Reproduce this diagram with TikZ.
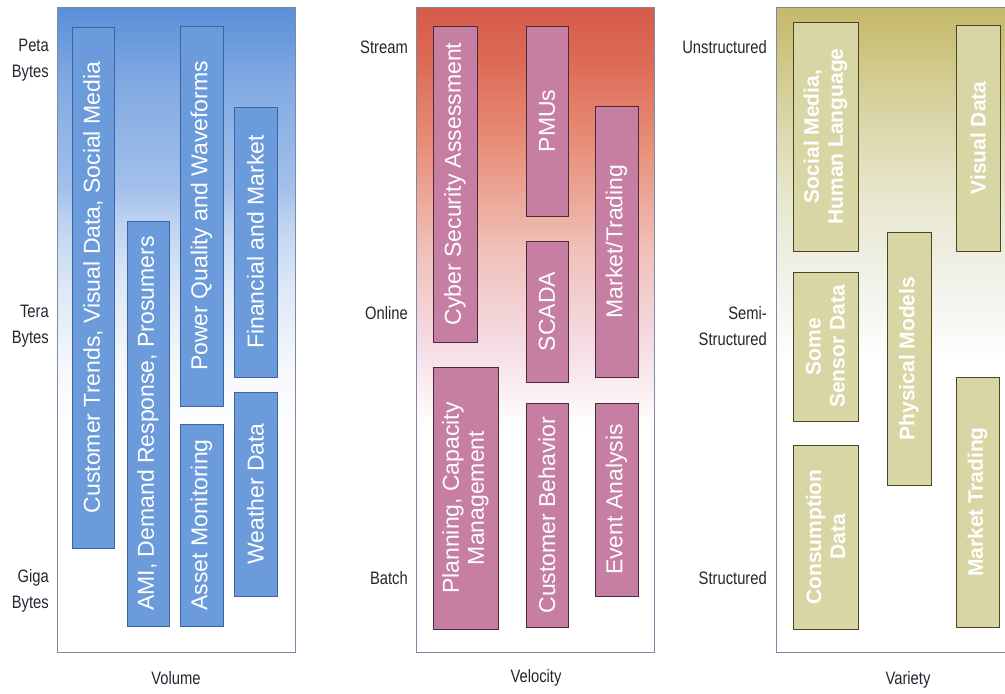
\documentclass[tikz,border=0pt]{standalone}
\usepackage{fontspec}
\setmainfont{Liberation Sans}
\newfontfamily\axisfont{Liberation Sans}[FakeStretch=0.82]
\usetikzlibrary{positioning}

\definecolor{volblue}{HTML}{5A8FD8}
\definecolor{volblueb}{HTML}{82AAE2}
\definecolor{volbluec}{HTML}{A2C0EA}
\definecolor{volblued}{HTML}{BCD2F0}
\definecolor{volbluee}{HTML}{DCE7F6}
\definecolor{volbluef}{HTML}{F6F8FC}
\definecolor{velred}{HTML}{D65A4A}
\definecolor{velredb}{HTML}{DC6A55}
\definecolor{velredc}{HTML}{E8907A}
\definecolor{velredd}{HTML}{F0C0B8}
\definecolor{velrede}{HTML}{F5DDE6}
\definecolor{varolive}{HTML}{C4B868}
\definecolor{varoliveb}{HTML}{D8D2A0}
\definecolor{varolivec}{HTML}{E8E8D0}
\definecolor{varolived}{HTML}{F4F5F0}
\definecolor{boxblue}{HTML}{6B9BDA}
\definecolor{boxblueline}{HTML}{3C64A8}
\definecolor{boxred}{HTML}{C67FA2}
\definecolor{boxredline}{HTML}{4A2A35}
\definecolor{boxolive}{HTML}{D9D6A6}
\definecolor{boxoliveline}{HTML}{4A4622}
\definecolor{panelline}{HTML}{7D8AA5}
\definecolor{labelgray}{HTML}{22262F}

% 25bp = bottom of the panel, 75bp = top of the panel
\pgfdeclareverticalshading{volshade}{100bp}{color(0bp)=(white); color(41bp)=(white); color(47bp)=(volbluef); color(53.5bp)=(volbluee); color(58.5bp)=(volblued); color(61bp)=(volbluec); color(69bp)=(volblueb); color(75bp)=(volblue); color(100bp)=(volblue)}
\pgfdeclareverticalshading{velshade}{100bp}{color(0bp)=(white); color(42.5bp)=(white); color(48.5bp)=(velrede); color(56.3bp)=(velredd); color(64bp)=(velredc); color(71bp)=(velredb); color(75bp)=(velred); color(100bp)=(velred)}
\pgfdeclareverticalshading{varshade}{100bp}{color(0bp)=(white); color(47.5bp)=(white); color(52bp)=(varolived); color(60bp)=(varolivec); color(67.5bp)=(varoliveb); color(75bp)=(varolive); color(100bp)=(varolive)}

\begin{document}
\begin{tikzpicture}[
    x=1pt,y=-1pt,
    every node/.style={inner sep=0pt},
    panel/.style={rectangle,draw=panelline,line width=0.6pt,shade,minimum width=238pt,minimum height=645pt},
    databox/.style={rectangle,rotate=90,line width=1pt,align=center,text=white,font=\fontsize{23}{25}\selectfont},
    bluebox/.style={databox,fill=boxblue,draw=boxblueline},
    redbox/.style={databox,fill=boxred,draw=boxredline},
    olivebox/.style={databox,fill=boxolive,draw=boxoliveline,text=white,font=\bfseries\fontsize{21}{24}\selectfont},
    boxsize/.style 2 args={minimum height=#1,minimum width=#2},
    axislabel/.style={font=\axisfont\fontsize{18}{26}\selectfont,text=labelgray,align=right,anchor=east},
    titlelabel/.style={font=\axisfont\fontsize{18}{22}\selectfont,text=labelgray}
]
\useasboundingbox (0,0) rectangle (1005,694);
\clip (0,0) rectangle (1005,694);

% =====================
% PANELS
% =====================
\node[panel,shading=volshade] (volpanel) at (176,329.5) {};
\node[panel,shading=velshade] (velpanel) at (535,329.5) {};
\node[panel,shading=varshade] (varpanel) at (895,329.5) {};

% =====================
% VOLUME
% =====================
\node[bluebox,boxsize={42pt}{521pt}] (trends) at (93,287.5) {Customer Trends, Visual Data, Social Media};
\node[bluebox,boxsize={42pt}{405pt}] (ami) at (148,423.5) {AMI, Demand Response, Prosumers};
\node[bluebox,boxsize={43pt}{380pt}] (power) at (201.5,216) {Power Quality and Waveforms};
\node[bluebox,boxsize={43pt}{202pt}] (asset) at (201.5,525) {Asset Monitoring};
\node[bluebox,boxsize={43pt}{270pt}] (financial) at (255.5,242) {Financial and Market};
\node[bluebox,boxsize={43pt}{204pt}] (weather) at (255.5,494) {Weather Data};

\node[axislabel] (peta) at (49,60) {Peta\\Bytes};
\node[axislabel] (tera) at (49,326) {Tera\\Bytes};
\node[axislabel] (giga) at (49,591) {Giga\\Bytes};

% =====================
% VELOCITY
% =====================
\node[redbox,boxsize={44pt}{316pt}] (cyber) at (455,184) {Cyber Security Assessment};
\node[redbox,boxsize={65pt}{262pt}] (planning) at (465.5,498) {Planning, Capacity\\Management};
\node[redbox,boxsize={42pt}{190pt}] (pmus) at (547,121) {PMUs};
\node[redbox,boxsize={42pt}{141pt}] (scada) at (547,311.5) {SCADA};
\node[redbox,boxsize={42pt}{224pt}] (custbeh) at (547,515) {Customer Behavior};
\node[redbox,boxsize={43pt}{271pt}] (trading) at (616.5,241.5) {Market/Trading};
\node[redbox,boxsize={43pt}{193pt}] (event) at (616.5,499.5) {Event Analysis};

\node[axislabel] (stream) at (408,47) {Stream};
\node[axislabel] (online) at (408,313) {Online};
\node[axislabel] (batch) at (408,578) {Batch};

% =====================
% VARIETY
% =====================
\node[olivebox,boxsize={65pt}{229pt}] (social) at (825.5,136.5) {Social Media,\\Human Language};
\node[olivebox,boxsize={65pt}{149pt}] (sensor) at (825.5,346.5) {Some\\Sensor Data};
\node[olivebox,boxsize={65pt}{184pt}] (consumption) at (825.5,537) {Consumption\\Data};
\node[olivebox,boxsize={44pt}{253pt}] (physical) at (909,358.5) {Physical Models};
\node[olivebox,boxsize={44pt}{226pt}] (visual) at (978,138) {Visual Data};
\node[olivebox,boxsize={43pt}{250pt}] (mtrading) at (977.5,502) {Market Trading};

\node[axislabel] (unstruct) at (767,47) {Unstructured};
\node[axislabel] (semi) at (767,326) {Semi-\\Structured};
\node[axislabel] (struct) at (767,578) {Structured};

% axis titles
\node[titlelabel] (volume) at (176,678) {Volume};
\node[titlelabel] (velocity) at (536,678) {Velocity};
\node[titlelabel] (variety) at (908,680) {Variety};

\end{tikzpicture}
\end{document}
